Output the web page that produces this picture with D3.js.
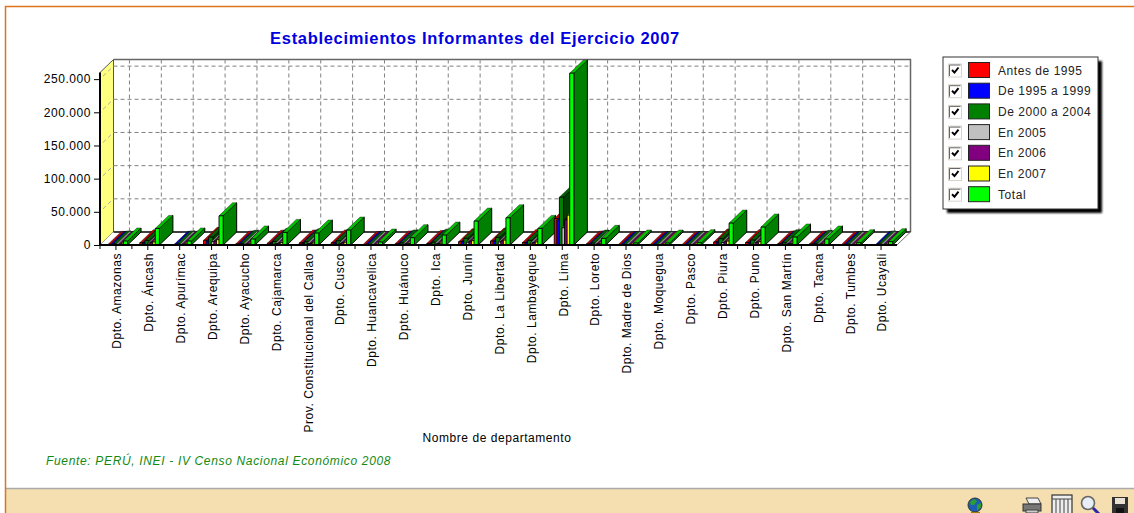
<!DOCTYPE html>
<html>
<head>
<meta charset="utf-8">
<script src="https://d3js.org/d3.v7.min.js"></script>
<style>
  html, body { margin: 0; padding: 0; background: #fff; overflow: hidden; }
  text { font-family: "Liberation Sans", Arial, sans-serif; letter-spacing: 0.55px; }
</style>
</head>
<body>
<svg id="chart" width="1134" height="513"></svg>
<script>
const departments = ['Dpto. Amazonas', 'Dpto. Áncash', 'Dpto. Apurímac', 'Dpto. Arequipa', 'Dpto. Ayacucho',
  'Dpto. Cajamarca', 'Prov. Constitucional del Callao', 'Dpto. Cusco', 'Dpto. Huancavelica', 'Dpto. Huánuco',
  'Dpto. Ica', 'Dpto. Junín', 'Dpto. La Libertad', 'Dpto. Lambayeque', 'Dpto. Lima', 'Dpto. Loreto',
  'Dpto. Madre de Dios', 'Dpto. Moquegua', 'Dpto. Pasco', 'Dpto. Piura', 'Dpto. Puno', 'Dpto. San Martín',
  'Dpto. Tacna', 'Dpto. Tumbes', 'Dpto. Ucayali'];

const antes1995 = [900, 3500, 0, 7000, 1300, 2700, 3000, 3200, 600, 1500, 2300, 5000, 6000, 3800, 40000, 1400, 300, 500, 500, 4500, 3800, 1500, 1400, 500, 0];
const de1995 = [800, 3000, 1000, 6000, 1200, 2500, 2500, 3000, 600, 1400, 2000, 4800, 5500, 3300, 38000, 1300, 500, 400, 500, 4300, 3600, 1600, 1200, 500, 800];
const de2000 = [1500, 6500, 1600, 12000, 2500, 5300, 4800, 6300, 1200, 3100, 4200, 10000, 11500, 7000, 72000, 2900, 900, 800, 1000, 9500, 7500, 3500, 2500, 1000, 1500];
const en2005 = [700, 2800, 800, 5000, 1000, 2200, 2200, 2500, 500, 1200, 1700, 4200, 4600, 2800, 26000, 1100, 300, 300, 400, 3700, 3000, 1300, 1000, 400, 600];
const en2006 = [900, 4000, 1100, 6000, 1400, 2700, 2500, 3300, 800, 1700, 2200, 5500, 6000, 3500, 38000, 1500, 500, 500, 500, 5000, 4100, 2000, 1300, 500, 800];
const en2007 = [1200, 4700, 1500, 8000, 1600, 3600, 3000, 4200, 1000, 2100, 2600, 6500, 7400, 4600, 45000, 1800, 500, 500, 600, 6000, 5000, 2100, 1600, 600, 1300];
const total = [6000, 25000, 6000, 44000, 9000, 19000, 18000, 22500, 4500, 11000, 15000, 36000, 41000, 25000, 259000, 10000, 3000, 3000, 3500, 33000, 27000, 12000, 9000, 3500, 5000];

const seriesNames = ['Antes de 1995', 'De 1995 a 1999', 'De 2000 a 2004', 'En 2005', 'En 2006', 'En 2007', 'Total'];
const seriesColors = ['#ff0000', '#0000ff', '#008000', '#c0c0c0', '#800080', '#ffff00', '#00ff00'];
const seriesValues = [antes1995, de1995, de2000, en2005, en2006, en2007, total];
const yTicks = [0, 50000, 100000, 150000, 200000, 250000];

const svg = d3.select('#chart');
const DEPTH_X = 13.5, DEPTH_Y = 13;   // oblique offset of the back wall
const es = d3.formatLocale({ decimal: ',', thousands: '.', grouping: [3], currency: ['', ''] });

const x = d3.scaleBand().domain(departments).range([100, 897]);
const y = d3.scaleLinear().domain([0, 260000]).range([245, 72.5]);
const inner = d3.scaleBand().domain(seriesNames).range([-8, 10]);

function shade(c, k) {
  const r = d3.rgb(c);
  return d3.rgb(r.r * k, r.g * k, r.b * k).formatHex();
}

// page frame
svg.append('rect').attr('x', 6).attr('y', 489).attr('width', 1128).attr('height', 24).attr('fill', '#f5deb0');
svg.append('line').attr('x1', 6).attr('x2', 1134).attr('y1', 488.5).attr('y2', 488.5).attr('stroke', '#aaaaaa').attr('stroke-width', 1.5);
svg.append('path').attr('d', 'M5.5,513V6.5H1134').attr('fill', 'none').attr('stroke', '#e0741a').attr('stroke-width', 1.5);

// walls and floor
const [x0, x1] = x.range();
const y0 = y(0), yTop = y(260000);
const plot = svg.append('g');

plot.append('path')
  .attr('d', `M${x0},${yTop}l${DEPTH_X},${-DEPTH_Y}V${y0 - DEPTH_Y}l${-DEPTH_X},${DEPTH_Y}Z`)
  .attr('fill', '#ffff80').attr('stroke', '#555').attr('stroke-width', 1);
plot.append('path')
  .attr('d', `M${x0 + DEPTH_X},${yTop - DEPTH_Y}H${x1 + DEPTH_X}V${y0 - DEPTH_Y}`)
  .attr('fill', 'none').attr('stroke', '#666').attr('stroke-width', 1.5);

const gridStyle = s => s.attr('stroke', '#808080').attr('stroke-width', 1).attr('stroke-dasharray', '4,3').attr('fill', 'none');
yTicks.slice(1).forEach(t => {
  plot.append('line').attr('x1', x0 + DEPTH_X).attr('x2', x1 + DEPTH_X)
    .attr('y1', y(t) - DEPTH_Y).attr('y2', y(t) - DEPTH_Y).call(gridStyle);
  plot.append('line').attr('x1', x0 + 3).attr('x2', x0 + DEPTH_X)
    .attr('y1', y(t) - 3).attr('y2', y(t) - DEPTH_Y).call(gridStyle).attr('stroke', '#aaa');
});
departments.forEach(d => {
  const cx = x(d) + x.bandwidth() / 2 + DEPTH_X;
  plot.append('line').attr('x1', cx).attr('x2', cx)
    .attr('y1', yTop - DEPTH_Y).attr('y2', y0 - DEPTH_Y).call(gridStyle);
});

plot.append('path')
  .attr('d', `M${x0},${y0}H${x1}l${DEPTH_X},${-DEPTH_Y}H${x0 + DEPTH_X}Z`)
  .attr('fill', '#fff').attr('stroke', 'none');
plot.append('line').attr('x1', x0 + DEPTH_X).attr('x2', x1 + DEPTH_X)
  .attr('y1', y0 - DEPTH_Y).attr('y2', y0 - DEPTH_Y).attr('stroke', '#000').attr('stroke-width', 1.5);
plot.append('line').attr('x1', x1).attr('x2', x1 + DEPTH_X)
  .attr('y1', y0).attr('y2', y0 - DEPTH_Y).attr('stroke', '#777').attr('stroke-width', 1);

// bars: side and top face first, then front; later bars paint over earlier sides
const bars = plot.append('g').attr('stroke', '#000').attr('stroke-linejoin', 'round');
departments.forEach((d, di) => {
  const cx = x(d) + x.bandwidth() / 2;
  seriesNames.forEach((name, si) => {
    const v = seriesValues[si][di];
    if (!v) return;
    const c = seriesColors[si];
    const bx = cx + inner(name), bw = inner.bandwidth() + 1.6, by = y(v);
    bars.append('path')
      .attr('d', `M${bx + bw},${by}l${DEPTH_X},${-DEPTH_Y}V${y0 - DEPTH_Y}l${-DEPTH_X},${DEPTH_Y}Z`)
      .attr('fill', shade(c, 0.5)).attr('stroke-width', 1);
    bars.append('path')
      .attr('d', `M${bx},${by}l${DEPTH_X},${-DEPTH_Y}h${bw}l${-DEPTH_X},${DEPTH_Y}Z`)
      .attr('fill', shade(c, 0.75)).attr('stroke-width', 0.4);
    bars.append('rect')
      .attr('x', bx).attr('y', by).attr('width', bw).attr('height', y0 - by)
      .attr('fill', c).attr('stroke-width', 0.9);
  });
});

// axes
const yAxis = d3.axisLeft(y).tickValues(yTicks).tickSize(6).tickPadding(3)
  .tickFormat(t => t === 0 ? '0' : es.format(',')(t));
const yG = svg.append('g').attr('transform', `translate(${x0},0)`).call(yAxis);
yG.select('.domain').remove();
yG.selectAll('text').style('font-size', '12px').style('fill', '#000')
  .style('font-family', '"Liberation Sans", Arial, sans-serif');
svg.append('line').attr('x1', x0).attr('x2', x0).attr('y1', yTop).attr('y2', y0 + 1)
  .attr('stroke', '#000').attr('stroke-width', 2);

const xAxis = d3.axisBottom(x).tickSize(5).tickPadding(2);
const xG = svg.append('g').attr('transform', `translate(0,${y0})`).call(xAxis);
xG.select('.domain').remove();
xG.selectAll('text')
  .attr('transform', 'rotate(-90)')
  .attr('text-anchor', 'end')
  .attr('x', -8).attr('y', 1.5).attr('dy', '0.32em')
  .style('font-size', '12px').style('fill', '#000')
  .style('font-family', '"Liberation Sans", Arial, sans-serif');
departments.forEach(d => {
  svg.append('line').attr('x1', x(d)).attr('x2', x(d)).attr('y1', y0).attr('y2', y0 + 4).attr('stroke', '#000');
});
svg.append('line').attr('x1', x0).attr('x2', x1).attr('y1', y0).attr('y2', y0)
  .attr('stroke', '#000').attr('stroke-width', 2);

// titles
svg.append('text').attr('x', 475).attr('y', 44).attr('text-anchor', 'middle')
  .style('font-size', '16.5px').style('font-weight', '700').style('letter-spacing', '0.68px').attr('fill', '#0000e0')
  .text('Establecimientos Informantes del Ejercicio 2007');
svg.append('text').attr('x', 497).attr('y', 442).attr('text-anchor', 'middle')
  .style('font-size', '12px').attr('fill', '#000').text('Nombre de departamento');
svg.append('text').attr('x', 46).attr('y', 465)
  .style('font-size', '12px').style('font-style', 'italic').style('letter-spacing', '0.66px').attr('fill', '#128a12')
  .text('Fuente: PERÚ, INEI - IV Censo Nacional Económico 2008');

// legend
const legend = svg.append('g').attr('transform', 'translate(943,57)');
const defs = svg.append('defs');
defs.append('filter').attr('id', 'soft').append('feGaussianBlur').attr('stdDeviation', 1);
legend.append('rect').attr('x', 4).attr('y', 4).attr('width', 155).attr('height', 152)
  .attr('fill', '#000').attr('filter', 'url(#soft)');
legend.append('rect').attr('x', 0).attr('y', 0).attr('width', 155).attr('height', 152)
  .attr('fill', '#fff').attr('stroke', '#333').attr('stroke-width', 1);
seriesNames.forEach((name, i) => {
  const g = legend.append('g').attr('transform', `translate(0,${5.5 + i * 20.7})`);
  g.append('rect').attr('x', 5.5).attr('y', 1.5).attr('width', 13).attr('height', 13)
    .attr('fill', '#fff').attr('stroke', '#d8d4cc').attr('stroke-width', 1);
  g.append('path').attr('d', 'M6.5,13.5V2.5H17.5').attr('fill', 'none').attr('stroke', '#666').attr('stroke-width', 1);
  g.append('path').attr('d', 'M9,7.5l2.5,2.5l4,-5').attr('fill', 'none').attr('stroke', '#000').attr('stroke-width', 2);
  g.append('rect').attr('x', 25.5).attr('y', 0).attr('width', 21).attr('height', 15)
    .attr('fill', seriesColors[i]).attr('stroke', '#222').attr('stroke-width', 1);
  g.append('text').attr('x', 55).attr('y', 12).style('font-size', '12px').attr('fill', '#222').text(name);
});

// toolbar icons
const tools = svg.append('g');
const globe = tools.append('g').attr('transform', 'translate(975,505)');
globe.append('circle').attr('r', 7).attr('fill', '#1a5fb4').attr('stroke', '#333');
globe.append('path').attr('d', 'M-5,-3l4,-3l3,2l-3,4l-3,0ZM2,0l4,-2l0,4l-4,4Z').attr('fill', '#2e9e2e');
globe.append('path').attr('d', 'M-4,8H5').attr('stroke', '#a08000').attr('stroke-width', 2);

const printer = tools.append('g').attr('transform', 'translate(1032,505)');
printer.append('path').attr('d', 'M-6,-7H6L9,-1H-3Z').attr('fill', '#eee').attr('stroke', '#444');
printer.append('rect').attr('x', -9).attr('y', -1).attr('width', 18).attr('height', 7).attr('fill', '#777').attr('stroke', '#333');
printer.append('rect').attr('x', -6).attr('y', 5).attr('width', 12).attr('height', 3).attr('fill', '#ccc').attr('stroke', '#444');

const grid = tools.append('g').attr('transform', 'translate(1062,505)');
grid.append('rect').attr('x', -10).attr('y', -10).attr('width', 20).attr('height', 20).attr('fill', '#eee').attr('stroke', '#333').attr('stroke-width', 1.2);
grid.append('path').attr('d', 'M-10,-6H10M-6,-6V10M-2,-6V10M2,-6V10M6,-6V10').attr('stroke', '#444');

const lens = tools.append('g').attr('transform', 'translate(1088,503)');
lens.append('circle').attr('r', 6.5).attr('fill', '#e8eef5').attr('stroke', '#666').attr('stroke-width', 1.6);
lens.append('line').attr('x1', 5).attr('y1', 5).attr('x2', 11).attr('y2', 11).attr('stroke', '#2a2aa0').attr('stroke-width', 3);

const disk = tools.append('g').attr('transform', 'translate(1120,505)');
disk.append('rect').attr('x', -8).attr('y', -8).attr('width', 16).attr('height', 18).attr('fill', '#333');
disk.append('rect').attr('x', -5).attr('y', -7).attr('width', 10).attr('height', 6).attr('fill', '#e8e0d0');
disk.append('rect').attr('x', -4).attr('y', 3).attr('width', 8).attr('height', 7).attr('fill', '#111');
</script>
</body>
</html>
